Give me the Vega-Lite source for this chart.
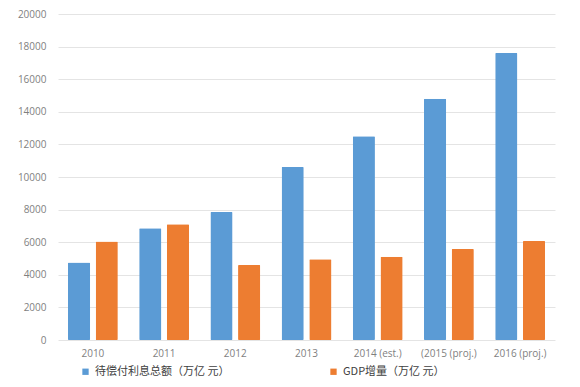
{
  "$schema": "https://vega.github.io/schema/vega-lite/v6.json",
  "width": 580,
  "height": 387,
  "autosize": {"type": "fit", "contains": "padding"},
  "padding": {"left": 17, "top": 9, "right": 25, "bottom": 29},
  "background": "white",
  "data": {
    "values": [
      {"year": "2010", "series": "待偿付利息总额（万亿 元）", "value": 4750},
      {"year": "2010", "series": "GDP增量（万亿 元）", "value": 6050},
      {"year": "2011", "series": "待偿付利息总额（万亿 元）", "value": 6850},
      {"year": "2011", "series": "GDP增量（万亿 元）", "value": 7100},
      {"year": "2012", "series": "待偿付利息总额（万亿 元）", "value": 7850},
      {"year": "2012", "series": "GDP增量（万亿 元）", "value": 4600},
      {"year": "2013", "series": "待偿付利息总额（万亿 元）", "value": 10620},
      {"year": "2013", "series": "GDP增量（万亿 元）", "value": 4950},
      {"year": "2014 (est.)", "series": "待偿付利息总额（万亿 元）", "value": 12500},
      {"year": "2014 (est.)", "series": "GDP增量（万亿 元）", "value": 5100},
      {"year": "(2015 (proj.)", "series": "待偿付利息总额（万亿 元）", "value": 14800},
      {"year": "(2015 (proj.)", "series": "GDP增量（万亿 元）", "value": 5580},
      {"year": "2016 (proj.)", "series": "待偿付利息总额（万亿 元）", "value": 17600},
      {"year": "2016 (proj.)", "series": "GDP增量（万亿 元）", "value": 6080}
    ]
  },
  "mark": {"type": "bar", "cornerRadius": 1},
  "encoding": {
    "x": {
      "field": "year",
      "type": "nominal",
      "sort": null,
      "scale": {"paddingInner": 0.3, "paddingOuter": 0.14},
      "axis": {"title": null, "labelAngle": 0, "domain": false, "ticks": false, "labelColor": "#7f7f7f", "labelFont": "Open Sans", "labelFontSize": 10, "labelPadding": 8}
    },
    "xOffset": {"field": "series", "type": "nominal", "scale": {"domain": ["待偿付利息总额（万亿 元）", "GDP增量（万亿 元）"], "paddingInner": 0.2}},
    "y": {
      "field": "value",
      "type": "quantitative",
      "scale": {"domain": [0, 20000], "nice": false},
      "axis": {"title": null, "values": [0,2000,4000,6000,8000,10000,12000,14000,16000,18000,20000], "labelOverlap": false, "domain": false, "ticks": false, "labelColor": "#7f7f7f", "labelFont": "Open Sans", "labelFontSize": 10, "labelPadding": 12, "gridColor": "#e4e4e4", "format": "d"}
    },
    "color": {
      "field": "series",
      "type": "nominal",
      "scale": {"domain": ["待偿付利息总额（万亿 元）", "GDP增量（万亿 元）"], "range": ["#5b9bd5", "#ed7d31"]},
      "legend": {"title": null, "orient": "none", "direction": "horizontal", "legendX": 22, "legendY": 352, "symbolType": "square", "symbolSize": 40, "symbolStrokeWidth": 0, "labelFont": "Noto Sans CJK SC", "labelFontSize": 11, "labelColor": "#404040", "columnPadding": 98, "labelLimit": 200}
    }
  },
  "config": {"view": {"stroke": null}}
}
